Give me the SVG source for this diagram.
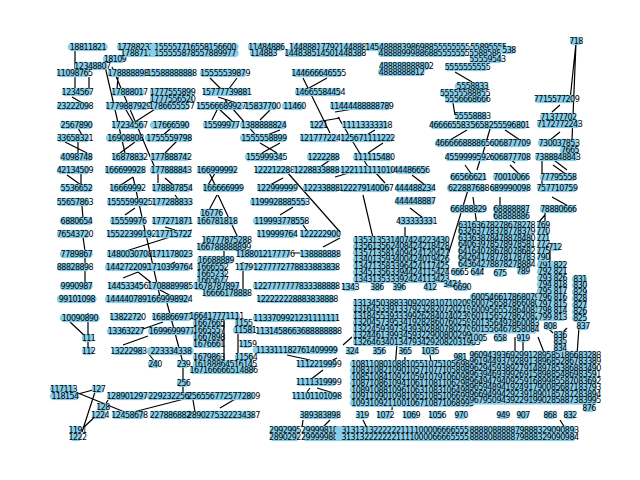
<svg xmlns="http://www.w3.org/2000/svg" width="640" height="480" viewBox="0 0 640 480">
<style>
.n path{fill:none;stroke:#87ceeb;stroke-width:8.5;stroke-linecap:round;stroke-dasharray:0 3.5}
.n text{font-family:'DejaVu Sans','Liberation Sans',sans-serif;font-size:8px;letter-spacing:-0.55px;text-anchor:middle;dominant-baseline:central;fill:#000}
#edges path{stroke:#000;stroke-width:1.2;fill:none}
</style>
<rect width="640" height="480" fill="#fff"/>
<g id="edges">
<path d="M75 50L75 90M89 77L89 90M72 97L84 104M78 128L82 135M78 141L78 155M65 142L87 153M67 175L81 185M81 172L81 185M82 206L83 218M83 237L85 251M85 256L85 283M75 295L88 302M70 322L85 336M88 313L88 349"/>
<path d="M104 62L125 153M112 67L155 168M118 77L117 89M163 104L135 122M122 103L133 122M178 122L162 136M135 142L120 153M177 141L165 153M118 187L133 177M133 177L160 297M135 208L125 215M158 172L158 183M165 178L173 185M175 195L180 202M165 227L175 230M123 252L192 230M123 278L138 272M138 272L158 288M175 262L165 267M160 290L175 298M140 330L163 322M123 345L148 336M148 353L155 362M167 303L183 363M183 366L183 380M183 386L183 393M78 393L127 413M78 394L93 390M95 392L82 432M100 412L83 428M122 415L188 398M108 400L105 405"/>
<path d="M210 78L222 90M237 78L228 90M218 97L243 105M225 100L260 140M218 108L212 120M218 108L233 122M270 110L260 120M280 130L262 137M260 143L277 153M280 143L262 153M303 78L330 133M327 78L300 93M310 123L340 118M320 167L330 160M208 170L215 185M217 170L208 185M218 195L240 242M217 195L208 212M287 172L340 232M270 185L283 178M293 207L280 215M303 225L308 232M323 247L340 238M293 253L307 253M224 240L224 290M243 262L243 290M224 320L224 370M238 322L238 370M287 355L310 360M337 358L323 365M323 370L310 380M310 388L307 392M317 388L340 395M242 395L220 408M193 400L195 412M303 420L302 427M330 420L323 427"/>
<path d="M455 72L472 82M453 103L455 115M450 140L467 130M335 112L390 103M338 117L368 167M375 130L358 140M383 143L368 153M335 177L352 172M375 172L385 183M412 175L425 185M407 197L398 203M410 208L423 218M405 227L405 237M363 195L380 268M468 190L445 265M465 165L472 175M352 337L343 345M395 300L390 310M397 343L392 410M405 357L405 367M430 355L437 402M363 420L367 428"/>
<path d="M576 43L570 100M576 43L572 140M560 105L552 112M560 132L550 140M550 157L567 170M542 160L542 190M553 165L567 175M552 197L570 207M545 215L538 223M545 212L545 243M550 250L550 265M510 165L520 175M505 155L515 163M473 197L483 270M500 197L500 208M492 122L483 153M480 160L477 170M505 130L520 140M515 337L515 362M523 337L523 360M538 337L545 355M548 328L553 333M567 328L562 333M580 313L577 355M560 420L565 428M485 310L482 318M530 370L525 397M508 380L503 397"/>
</g>
<g id="nodes">
<g id="a1" class="n"><path d="M72 47H104"/><text x="88" y="47">18811821</text></g>
<g id="a2" class="n"><path d="M107 59H123"/><text x="115" y="59">18109</text></g>
<g id="a3" class="n"><path d="M79 66H106"/><text x="92.5" y="66">12348807</text></g>
<g id="a4" class="n"><path d="M61 73H88"/><text x="74.5" y="73">11098765</text></g>
<g id="a5" class="n"><path d="M66 92H89"/><text x="77.5" y="92">1234567</text></g>
<g id="a6" class="n"><path d="M61 106H89"/><text x="75" y="106">23222098</text></g>
<g id="a7" class="n"><path d="M64 125H89"/><text x="76.5" y="125">2567890</text></g>
<g id="a8" class="n"><path d="M61 138H89"/><text x="75" y="138">33658321</text></g>
<g id="a9" class="n"><path d="M64 157H89"/><text x="76.5" y="157">4098748</text></g>
<g id="a10" class="n"><path d="M61 170H89"/><text x="75" y="170">42134509</text></g>
<g id="a11" class="n"><path d="M64 188H89"/><text x="76.5" y="188">5536652</text></g>
<g id="a12" class="n"><path d="M61 202H89"/><text x="75" y="202">55657863</text></g>
<g id="a13" class="n"><path d="M64 221H89"/><text x="76.5" y="221">6880654</text></g>
<g id="a14" class="n"><path d="M61 234H89"/><text x="75" y="234">76543720</text></g>
<g id="a15" class="n"><path d="M64 254H89"/><text x="76.5" y="254">7789867</text></g>
<g id="a16" class="n"><path d="M61 267H89"/><text x="75" y="267">88828898</text></g>
<g id="a17" class="n"><path d="M64 286H89"/><text x="76.5" y="286">9990987</text></g>
<g id="a18" class="n"><path d="M61 299H93"/><text x="77" y="299">99101098</text></g>
<g id="a19" class="n"><path d="M64 318H96"/><text x="80" y="318">10090890</text></g>
<g id="a20" class="n"><path d="M86 338H91"/><text x="88.5" y="338">111</text></g>
<g id="a21" class="n"><path d="M86 351H91"/><text x="88.5" y="351">112</text></g>
<g id="t1" class="n"><path d="M121 47H168"/><text x="144.5" y="47">177882371584</text></g>
<g id="t2" class="n"><path d="M126 53H156"/><text x="141" y="53">178871777</text></g>
<g id="t3" class="n"><path d="M154 47H236"/><text x="195" y="47">155557716558156600</text></g>
<g id="t4" class="n"><path d="M154 53H236"/><text x="195" y="53">155555878557889977</text></g>
<g id="t5" class="n"><path d="M252 47H281"/><text x="266.5" y="47">11484886</text></g>
<g id="t6" class="n"><path d="M254 53H273"/><text x="263.5" y="53">114883</text></g>
<g id="t7" class="n"><path d="M294 47H361"/><text x="327.5" y="47">14488817792144888</text></g>
<g id="t8" class="n"><path d="M289 53H361"/><text x="325" y="53">144838514501448388</text></g>
<g id="t9" class="n"><path d="M369 47H466"/><text x="417.5" y="47">14548888398698855555555</text></g>
<g id="t10" class="n"><path d="M382 53H466"/><text x="424" y="53">48888999886885555555</text></g>
<g id="t11" class="n"><path d="M474 47H503"/><text x="488.5" y="47">55895555</text></g>
<g id="t13" class="n"><path d="M474 53H496"/><text x="485" y="53">5588588</text></g>
<g id="t12" class="n"><path d="M474 59H501"/><text x="487.5" y="59">55559543</text></g>
<g id="t14" class="n"><path d="M504 50H514"/><text x="509" y="50">538</text></g>
<g id="b1" class="n"><path d="M112 73H144"/><text x="128" y="73">178888898</text></g>
<g id="b2" class="n"><path d="M152 73H191"/><text x="171.5" y="73">15588888888</text></g>
<g id="b3" class="n"><path d="M116 92H143"/><text x="129.5" y="92">17888017</text></g>
<g id="b4" class="n"><path d="M154 92H191"/><text x="172.5" y="92">1777555899</text></g>
<g id="b5" class="n"><path d="M154 99H191"/><text x="172.5" y="99">1777556520</text></g>
<g id="b6" class="n"><path d="M110 106H146"/><text x="128" y="106">1779887929</text></g>
<g id="b7" class="n"><path d="M154 106H189"/><text x="171.5" y="106">1786655557</text></g>
<g id="b8" class="n"><path d="M116 125H143"/><text x="129.5" y="125">17234567</text></g>
<g id="b9" class="n"><path d="M154 125H188"/><text x="171" y="125">17666590</text></g>
<g id="b10" class="n"><path d="M110 138H141"/><text x="125.5" y="138">16908808</text></g>
<g id="b11" class="n"><path d="M149 138H189"/><text x="169" y="138">1755559798</text></g>
<g id="b12" class="n"><path d="M116 157H143"/><text x="129.5" y="157">16878832</text></g>
<g id="b13" class="n"><path d="M154 157H188"/><text x="171" y="157">177888742</text></g>
<g id="b14" class="n"><path d="M109 170H141"/><text x="125" y="170">166699928</text></g>
<g id="b15" class="n"><path d="M154 170H188"/><text x="171" y="170">177888843</text></g>
<g id="b16" class="n"><path d="M114 188H141"/><text x="127.5" y="188">16669992</text></g>
<g id="b17" class="n"><path d="M156 188H188"/><text x="172" y="188">178887854</text></g>
<g id="b18" class="n"><path d="M111 202H148"/><text x="129.5" y="202">1555599925</text></g>
<g id="b19" class="n"><path d="M156 202H188"/><text x="172" y="202">177288833</text></g>
<g id="b20" class="n"><path d="M114 221H143"/><text x="128.5" y="221">15559976</text></g>
<g id="b21" class="n"><path d="M156 221H188"/><text x="172" y="221">177271871</text></g>
<g id="b22" class="n"><path d="M111 234H151"/><text x="131" y="234">15522399192</text></g>
<g id="b23" class="n"><path d="M159 234H188"/><text x="173.5" y="234">17715722</text></g>
<g id="b24" class="n"><path d="M111 254H148"/><text x="129.5" y="254">1480030708</text></g>
<g id="b25" class="n"><path d="M156 254H188"/><text x="172" y="254">171178023</text></g>
<g id="b26" class="n"><path d="M109 267H148"/><text x="128.5" y="267">1442722092</text></g>
<g id="b27" class="n"><path d="M152 267H188"/><text x="170" y="267">1710399764</text></g>
<g id="b28" class="n"><path d="M112 286H143"/><text x="127.5" y="286">144533456</text></g>
<g id="b29" class="n"><path d="M152 286H188"/><text x="170" y="286">1708889985</text></g>
<g id="b30" class="n"><path d="M109 299H148"/><text x="128.5" y="299">1444407891</text></g>
<g id="b31" class="n"><path d="M151 299H188"/><text x="169.5" y="299">1669998924</text></g>
<g id="b32" class="n"><path d="M114 317H141"/><text x="127.5" y="317">13822720</text></g>
<g id="b33" class="n"><path d="M156 317H188"/><text x="172" y="317">168866977</text></g>
<g id="b34" class="n"><path d="M111 331H141"/><text x="126" y="331">13363227</text></g>
<g id="b35" class="n"><path d="M152 331H191"/><text x="171.5" y="331">1699699977</text></g>
<g id="b36" class="n"><path d="M116 351H141"/><text x="128.5" y="351">13222983</text></g>
<g id="b37" class="n"><path d="M151 351H191"/><text x="171" y="351">223334338</text></g>
<g id="b38" class="n"><path d="M152 364H158"/><text x="155" y="364">240</text></g>
<g id="b39" class="n"><path d="M181 364H186"/><text x="183.5" y="364">239</text></g>
<g id="b40" class="n"><path d="M181 383H186"/><text x="183.5" y="383">256</text></g>
<g id="b41" class="n"><path d="M96 389H101"/><text x="98.5" y="389">127</text></g>
<g id="b42" class="n"><path d="M54 389H73"/><text x="63.5" y="389">117113</text></g>
<g id="b43" class="n"><path d="M54 396H76"/><text x="65" y="396">118154</text></g>
<g id="b44" class="n"><path d="M111 396H143"/><text x="127" y="396">128901297</text></g>
<g id="b45" class="n"><path d="M151 396H191"/><text x="171" y="396">2292322568</text></g>
<g id="b46" class="n"><path d="M101 407H105"/><text x="103" y="407">128</text></g>
<g id="b47" class="n"><path d="M96 415H104"/><text x="100" y="415">1224</text></g>
<g id="b48" class="n"><path d="M116 415H143"/><text x="129.5" y="415">12458678</text></g>
<g id="b49" class="n"><path d="M154 415H191"/><text x="172.5" y="415">2278868828</text></g>
<g id="b50" class="n"><path d="M74 430H81"/><text x="77.5" y="430">1191</text></g>
<g id="b51" class="n"><path d="M74 437H81"/><text x="77.5" y="437">1222</text></g>
<g id="c1" class="n"><path d="M204 73H246"/><text x="225" y="73">15555539879</text></g>
<g id="c2" class="n"><path d="M296 73H341"/><text x="318.5" y="73">144666646555</text></g>
<g id="c3" class="n"><path d="M207 92H246"/><text x="226.5" y="92">15777739881</text></g>
<g id="c4" class="n"><path d="M299 92H341"/><text x="320" y="92">14665584454</text></g>
<g id="c5" class="n"><path d="M201 106H241"/><text x="221" y="106">15566689927</text></g>
<g id="c6" class="n"><path d="M249 106H276"/><text x="262.5" y="106">15837700</text></g>
<g id="c7" class="n"><path d="M286 106H303"/><text x="294.5" y="106">11460</text></g>
<g id="c8" class="n"><path d="M334 106H389"/><text x="361.5" y="106">11444488888789</text></g>
<g id="c9" class="n"><path d="M207 125H236"/><text x="221.5" y="125">15599977</text></g>
<g id="c10" class="n"><path d="M244 125H283"/><text x="263.5" y="125">1388888824</text></g>
<g id="c11" class="n"><path d="M314 125H323"/><text x="318.5" y="125">1221</text></g>
<g id="c12" class="n"><path d="M346 125H388"/><text x="367" y="125">11113333318</text></g>
<g id="c13" class="n"><path d="M244 138H284"/><text x="264" y="138">1555558899</text></g>
<g id="c14" class="n"><path d="M304 138H336"/><text x="320" y="138">121777224</text></g>
<g id="c15" class="n"><path d="M344 138H391"/><text x="367.5" y="138">125671111222</text></g>
<g id="c16" class="n"><path d="M249 157H284"/><text x="266.5" y="157">155999345</text></g>
<g id="c17" class="n"><path d="M311 157H336"/><text x="323.5" y="157">1222288</text></g>
<g id="c18" class="n"><path d="M357 157H391"/><text x="374" y="157">111115480</text></g>
<g id="c19" class="n"><path d="M201 170H233"/><text x="217" y="170">166999992</text></g>
<g id="c20" class="n"><path d="M259 170H289"/><text x="274" y="170">122212288</text></g>
<g id="c21" class="n"><path d="M297 170H336"/><text x="316.5" y="170">1228833888</text></g>
<g id="c22" class="n"><path d="M344 170H391"/><text x="367.5" y="170">122111111010</text></g>
<g id="c23" class="n"><path d="M207 188H239"/><text x="223" y="188">166666999</text></g>
<g id="c24" class="n"><path d="M261 188H293"/><text x="277" y="188">122999999</text></g>
<g id="c25" class="n"><path d="M307 188H336"/><text x="321.5" y="188">12233888</text></g>
<g id="c26" class="n"><path d="M344 188H388"/><text x="366" y="188">122279140067</text></g>
<g id="c27" class="n"><path d="M254 202H306"/><text x="280" y="202">1199928885553</text></g>
<g id="c28" class="n"><path d="M204 213H219"/><text x="211.5" y="213">16776</text></g>
<g id="c29" class="n"><path d="M201 221H233"/><text x="217" y="221">166781818</text></g>
<g id="c30" class="n"><path d="M257 221H306"/><text x="281.5" y="221">119993778558</text></g>
<g id="c31" class="n"><path d="M261 234H293"/><text x="277" y="234">119999764</text></g>
<g id="c32" class="n"><path d="M304 234H336"/><text x="320" y="234">122222900</text></g>
<g id="c33" class="n"><path d="M207 240H246"/><text x="226.5" y="240">16777875288</text></g>
<g id="c34" class="n"><path d="M201 247H246"/><text x="223.5" y="247">166788888899</text></g>
<g id="c35" class="n"><path d="M241 254H289"/><text x="265" y="254">1188012177776</text></g>
<g id="c36" class="n"><path d="M304 254H336"/><text x="320" y="254">138888888</text></g>
<g id="c37" class="n"><path d="M201 260H231"/><text x="216" y="260">16688889</text></g>
<g id="c38" class="n"><path d="M241 267H251"/><text x="246" y="267">11796</text></g>
<g id="c39" class="n"><path d="M201 267H224"/><text x="212.5" y="267">1666552</text></g>
<g id="c40" class="n"><path d="M257 267H336"/><text x="296.5" y="267">1277772778833883838</text></g>
<g id="c41" class="n"><path d="M201 274H224"/><text x="212.5" y="274">1665232</text></g>
<g id="c42" class="n"><path d="M201 280H224"/><text x="212.5" y="280">1665677</text></g>
<g id="c43" class="n"><path d="M197 286H236"/><text x="216.5" y="286">1678787897</text></g>
<g id="c44" class="n"><path d="M257 286H336"/><text x="296.5" y="286">1227777777833388888</text></g>
<g id="c45" class="n"><path d="M207 293H246"/><text x="226.5" y="293">16666178888</text></g>
<g id="c46" class="n"><path d="M261 299H333"/><text x="297" y="299">122222228883838888</text></g>
<g id="c47" class="n"><path d="M194 316H239"/><text x="216.5" y="316">166417771111</text></g>
<g id="c48" class="n"><path d="M257 318H336"/><text x="296.5" y="318">1133709921231111111</text></g>
<g id="c49" class="n"><path d="M197 323H221"/><text x="209" y="323">1667665</text></g>
<g id="c50" class="n"><path d="M239 323H248"/><text x="243.5" y="323">1155</text></g>
<g id="c51" class="n"><path d="M197 330H221"/><text x="209" y="330">1665557</text></g>
<g id="c52" class="n"><path d="M237 330H253"/><text x="245" y="330">11581</text></g>
<g id="c53" class="n"><path d="M261 331H336"/><text x="298.5" y="331">1131458663688888888</text></g>
<g id="c54" class="n"><path d="M197 337H221"/><text x="209" y="337">1667898</text></g>
<g id="c55" class="n"><path d="M197 344H221"/><text x="209" y="344">1676661</text></g>
<g id="c56" class="n"><path d="M244 344H251"/><text x="247.5" y="344">1159</text></g>
<g id="c57" class="n"><path d="M257 350H336"/><text x="296.5" y="350">113311182761409999</text></g>
<g id="c58" class="n"><path d="M197 357H221"/><text x="209" y="357">1679863</text></g>
<g id="c59" class="n"><path d="M239 357H253"/><text x="246" y="357">11564</text></g>
<g id="c60" class="n"><path d="M197 364H253"/><text x="225" y="364">16188864516145</text></g>
<g id="c61" class="n"><path d="M301 364H336"/><text x="318.5" y="364">1112219999</text></g>
<g id="c62" class="n"><path d="M194 370H253"/><text x="223.5" y="370">167166666514886</text></g>
<g id="c63" class="n"><path d="M301 382H336"/><text x="318.5" y="382">1111319999</text></g>
<g id="c64" class="n"><path d="M194 396H253"/><text x="223.5" y="396">2565567725772809</text></g>
<g id="c65" class="n"><path d="M297 396H336"/><text x="316.5" y="396">11101101098</text></g>
<g id="c66" class="n"><path d="M194 415H253"/><text x="223.5" y="415">2890275322234387</text></g>
<g id="c67" class="n"><path d="M304 415H336"/><text x="320" y="415">389383898</text></g>
<g id="c68" class="n"><path d="M274 430H296"/><text x="285" y="430">2992995</text></g>
<g id="c69" class="n"><path d="M274 437H296"/><text x="285" y="437">2890292</text></g>
<g id="c70" class="n"><path d="M307 430H336"/><text x="321.5" y="430">299998181</text></g>
<g id="c71" class="n"><path d="M307 437H336"/><text x="321.5" y="437">299999882</text></g>
<g id="d1" class="n"><path d="M384 66H428"/><text x="406" y="66">488888888802</text></g>
<g id="d2" class="n"><path d="M382 72H421"/><text x="401.5" y="72">4888888812</text></g>
<g id="d3" class="n"><path d="M449 67H486"/><text x="467.5" y="67">5555555555</text></g>
<g id="d4" class="n"><path d="M459 86H486"/><text x="472.5" y="86">5558833</text></g>
<g id="d5" class="n"><path d="M444 93H486"/><text x="465" y="93">55555588855</text></g>
<g id="d6" class="n"><path d="M449 99H486"/><text x="467.5" y="99">5556668666</text></g>
<g id="d7" class="n"><path d="M459 116H486"/><text x="472.5" y="116">55558883</text></g>
<g id="d8" class="n"><path d="M434 125H474"/><text x="454" y="125">46666558333</text></g>
<g id="d9" class="n"><path d="M474 125H526"/><text x="500" y="125">5658255596801</text></g>
<g id="d10" class="n"><path d="M439 143H486"/><text x="462.5" y="143">466666888865</text></g>
<g id="d11" class="n"><path d="M494 143H526"/><text x="510" y="143">606877709</text></g>
<g id="d12" class="n"><path d="M449 157H486"/><text x="467.5" y="157">4559999592</text></g>
<g id="d13" class="n"><path d="M494 157H526"/><text x="510" y="157">606877708</text></g>
<g id="d14" class="n"><path d="M399 170H424"/><text x="411.5" y="170">44486656</text></g>
<g id="d15" class="n"><path d="M399 188H431"/><text x="415" y="188">444488234</text></g>
<g id="d16" class="n"><path d="M399 201H431"/><text x="415" y="201">444448887</text></g>
<g id="d17" class="n"><path d="M402 221H431"/><text x="416.5" y="221">433333331</text></g>
<g id="D1" class="n">
<path d="M357 240H446M357 246.5H446M357 253H446M357 259.5H446M357 266H446M357 272.5H446M357 279H446"/>
<text x="401.5" y="240">135313531407424223430</text><text x="401.5" y="246.5">135613562408424218428</text><text x="401.5" y="253">135713581409424120427</text><text x="401.5" y="259.5">134013593400424019426</text><text x="401.5" y="266">134713583396424117425</text><text x="401.5" y="272.5">134513563394424115424</text><text x="401.5" y="279">134313533392424113423</text>
</g>
<g id="d18" class="n"><path d="M346 287H354"/><text x="350" y="287">1343</text></g>
<g id="d19" class="n"><path d="M375 287H379"/><text x="377" y="287">386</text></g>
<g id="d20" class="n"><path d="M397 287H401"/><text x="399" y="287">396</text></g>
<g id="d21" class="n"><path d="M428 287H432"/><text x="430" y="287">412</text></g>
<g id="d22" class="n"><path d="M448 284H456"/><text x="452" y="284">3424</text></g>
<g id="D2" class="n">
<path d="M357 303H476M357 309.5H476M357 316H476M357 322.5H476M357 329H476M357 335.5H476M357 342H476"/>
<text x="416.5" y="303">1313450388330920281071020988</text><text x="416.5" y="309.5">1316453391337923282072021990</text><text x="416.5" y="316">1318455393339926284074023991</text><text x="416.5" y="322.5">1320457395341928286076025989</text><text x="416.5" y="329">1322459397343930288078027987</text><text x="416.5" y="335.5">1324461399345932290080029985</text><text x="416.5" y="342">1326463401347934292082031983</text>
</g>
<g id="d23" class="n"><path d="M350 351H354"/><text x="352" y="351">324</text></g>
<g id="d24" class="n"><path d="M377 351H381"/><text x="379" y="351">356</text></g>
<g id="d25" class="n"><path d="M403 351H407"/><text x="405" y="351">365</text></g>
<g id="d26" class="n"><path d="M426 351H434"/><text x="430" y="351">1035</text></g>
<g id="d27" class="n"><path d="M458 357H462"/><text x="460" y="357">981</text></g>
<g id="D3" class="n">
<path d="M354 364H471M354 370.5H471M354 377H471M354 383.5H471M354 390H471M354 396.5H471M354 403H471"/>
<text x="412.5" y="364">108110801088105510751056981</text><text x="412.5" y="370.5">108310821090105710771058983</text><text x="412.5" y="377">108510841092105910791060985</text><text x="412.5" y="383.5">108710861094106110811062987</text><text x="412.5" y="390">108910881096106310831064989</text><text x="412.5" y="396.5">109110901098106510851066991</text><text x="412.5" y="403">109310921100106710871068993</text>
</g>
<g id="d28" class="n"><path d="M360 415H364"/><text x="362" y="415">319</text></g>
<g id="d29" class="n"><path d="M381 415H389"/><text x="385" y="415">1072</text></g>
<g id="d30" class="n"><path d="M407 415H415"/><text x="411" y="415">1069</text></g>
<g id="d31" class="n"><path d="M433 415H441"/><text x="437" y="415">1056</text></g>
<g id="d32" class="n"><path d="M459 415H463"/><text x="461" y="415">970</text></g>
<g id="E4" class="n">
<path d="M474 355H596M474 361.5H596M474 368H596M474 374.5H596M474 381H596M474 387.5H596M474 394H596M474 400.5H596"/>
<text x="535" y="355">96094393692991289585186683288</text><text x="535" y="361.5">96194493792891389685286783389</text><text x="535" y="368">96294593892791489785386883490</text><text x="535" y="374.5">96394693992691589885486983591</text><text x="535" y="381">96494794092591689985587083692</text><text x="535" y="387.5">96594894192491790085687183793</text><text x="535" y="394">96694994292391890185787283894</text><text x="535" y="400.5">96795094392291990285887383995</text>
</g>
<g id="e18" class="n"><path d="M501 415H505"/><text x="503" y="415">949</text></g>
<g id="e19" class="n"><path d="M521 415H525"/><text x="523" y="415">907</text></g>
<g id="e20" class="n"><path d="M548 415H552"/><text x="550" y="415">868</text></g>
<g id="e21" class="n"><path d="M568 415H572"/><text x="570" y="415">832</text></g>
<g id="e22" class="n"><path d="M587 408H591"/><text x="589" y="408">876</text></g>
<g id="E3" class="n">
<path d="M474 297H536M474 303.5H536M474 310H536M474 316.5H536M474 323H536M474 329.5H536"/>
<text x="505" y="297">600546617868079</text><text x="505" y="303.5">600756587866080</text><text x="505" y="310">600956557864081</text><text x="505" y="316.5">601156527862082</text><text x="505" y="323">601356497860083</text><text x="505" y="329.5">601556467858084</text>
</g>
<g id="e23" class="n"><path d="M474 338H482"/><text x="478" y="338">1005</text></g>
<g id="e24" class="n"><path d="M498 338H502"/><text x="500" y="338">658</text></g>
<g id="e25" class="n"><path d="M521 338H525"/><text x="523" y="338">919</text></g>
<g id="e26" class="n"><path d="M548 326H552"/><text x="550" y="326">808</text></g>
<g id="e27" class="n"><path d="M581 326H585"/><text x="583" y="326">837</text></g>
<g id="E2a" class="n">
<path d="M541 265H564M541 271.5H564M541 278H564M541 284.5H564M541 291H564M541 297.5H564M541 304H564M541 310.5H564M541 317H564"/>
<text x="552.5" y="265">791 822</text><text x="552.5" y="271.5">792 821</text><text x="552.5" y="278">793 826</text><text x="552.5" y="284.5">794 818</text><text x="552.5" y="291">795 817</text><text x="552.5" y="297.5">796 816</text><text x="552.5" y="304">797 815</text><text x="552.5" y="310.5">798 814</text><text x="552.5" y="317">799 813</text>
</g>
<g id="E2b" class="n">
<path d="M576 279H584M576 285.5H584M576 292H584M576 298.5H584M576 305H584M576 311.5H584M576 318H584"/>
<text x="580" y="279">831</text><text x="580" y="285.5">830</text><text x="580" y="292">829</text><text x="580" y="298.5">828</text><text x="580" y="305">827</text><text x="580" y="311.5">826</text><text x="580" y="318">825</text>
</g>
<g id="E2c" class="n">
<path d="M558 335H562M558 341.5H562M558 348H562"/>
<text x="560" y="335">836</text><text x="560" y="341.5">835</text><text x="560" y="348">834</text>
</g>
<g id="E1" class="n">
<path d="M462 225H531M462 231.5H531M462 238H531M462 244.5H531M462 251H531M462 257.5H531M462 264H531"/>
<text x="496.5" y="225">63163678278678278</text><text x="496.5" y="231.5">63263778378778379</text><text x="496.5" y="238">63363878478878480</text><text x="496.5" y="244.5">64063978578978581</text><text x="496.5" y="251">64164078678078682</text><text x="496.5" y="257.5">64264178778178783</text><text x="496.5" y="264">64364278878278884</text>
</g>
<g id="E1b" class="n">
<path d="M541 225H545M541 231.5H545M541 238H545M541 244.5H545M541 251H545M541 257.5H545"/>
<text x="543" y="225">769</text><text x="543" y="231.5">770</text><text x="543" y="238">771</text><text x="543" y="244.5">772</text><text x="543" y="251">775</text><text x="543" y="257.5">790</text>
</g>
<g id="e28" class="n"><path d="M553 247H557"/><text x="555" y="247">712</text></g>
<g id="e29" class="n"><path d="M475 272H479"/><text x="477" y="272">644</text></g>
<g id="e30" class="n"><path d="M498 273H502"/><text x="500" y="273">675</text></g>
<g id="e31" class="n"><path d="M521 271H525"/><text x="523" y="271">789</text></g>
<g id="e32" class="n"><path d="M456 272H463"/><text x="459.5" y="272">6665</text></g>
<g id="e33" class="n"><path d="M458 287H466"/><text x="462" y="287">6690</text></g>
<g id="e1" class="n"><path d="M539 99H574"/><text x="556.5" y="99">7715577209</text></g>
<g id="e2" class="n"><path d="M544 117H573"/><text x="558.5" y="117">71377702</text></g>
<g id="e3" class="n"><path d="M541 124H578"/><text x="559.5" y="124">7172772243</text></g>
<g id="e4" class="n"><path d="M542 143H576"/><text x="559" y="143">730037853</text></g>
<g id="e5" class="n"><path d="M564 150H576"/><text x="570" y="150">7665</text></g>
<g id="e6" class="n"><path d="M539 157H576"/><text x="557.5" y="157">7388848843</text></g>
<g id="e7" class="n"><path d="M574 41H578"/><text x="576" y="41">718</text></g>
<g id="e8" class="n"><path d="M454 177H483"/><text x="468.5" y="177">66566621</text></g>
<g id="e9" class="n"><path d="M497 177H526"/><text x="511.5" y="177">70010066</text></g>
<g id="e10" class="n"><path d="M544 177H573"/><text x="558.5" y="177">77795558</text></g>
<g id="e11" class="n"><path d="M451 188H486"/><text x="468.5" y="188">622887688</text></g>
<g id="e12" class="n"><path d="M494 188H526"/><text x="510" y="188">689990098</text></g>
<g id="e13" class="n"><path d="M541 188H573"/><text x="557" y="188">757710759</text></g>
<g id="e14" class="n"><path d="M454 209H483"/><text x="468.5" y="209">66888829</text></g>
<g id="e15" class="n"><path d="M497 209H526"/><text x="511.5" y="209">68888887</text></g>
<g id="e16" class="n"><path d="M497 216H526"/><text x="511.5" y="216">68888886</text></g>
<g id="e17" class="n"><path d="M544 209H573"/><text x="558.5" y="209">78880666</text></g>
<g id="f1" class="n"><path d="M339 430H471"/><text x="405" y="430">3131313222222111100006666555</text></g>
<g id="f2" class="n"><path d="M339 437H471"/><text x="405" y="437">3131322222221111000066665555</text></g>
<g id="f3" class="n"><path d="M474 430H574"/><text x="524" y="430">888808888879888329090893</text></g>
<g id="f4" class="n"><path d="M474 437H574"/><text x="524" y="437">888808888879888329090984</text></g>
</g>
</svg>
